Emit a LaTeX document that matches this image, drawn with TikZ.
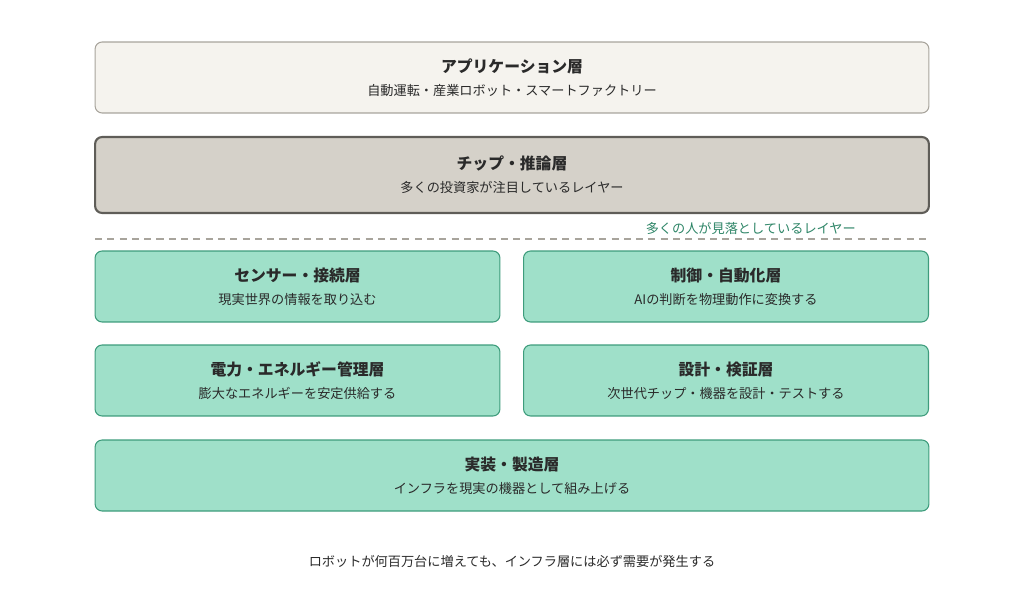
\documentclass[tikz,border=0pt]{standalone}
\usepackage{fontspec}
\setmainfont{Noto Sans CJK JP}
\usepackage{xcolor}
\usetikzlibrary{positioning}
\definecolor{appfill}{HTML}{F5F3EE}
\definecolor{appdraw}{HTML}{A8A49C}
\definecolor{chipfill}{HTML}{D5D1C9}
\definecolor{chipdraw}{HTML}{5F5D58}
\definecolor{infrafill}{HTML}{9FE0C9}
\definecolor{infradraw}{HTML}{3E9C7C}
\definecolor{notegreen}{HTML}{2E8567}
\definecolor{textdark}{HTML}{2A2A2A}
\newcommand{\layertitle}[1]{{\fontsize{9pt}{11pt}\selectfont\bfseries #1}}

\begin{document}
\begin{tikzpicture}[
    x=0.02cm, y=-0.02cm,
    layer/.style={rectangle, rounded corners=4pt, minimum height=1.42cm, align=center, text=textdark, font=\fontsize{7.5pt}{13pt}\selectfont},
    app/.style={layer, draw=appdraw, fill=appfill, line width=0.6pt},
    chip/.style={layer, draw=chipdraw, fill=chipfill, line width=1.2pt, minimum height=1.52cm},
    infra/.style={layer, draw=infradraw, fill=infrafill, line width=0.6pt},
    wide/.style={minimum width=16.68cm},
    half/.style={minimum width=8.1cm}
]
    \useasboundingbox (0,0) rectangle (1024,612);

    % upper layers
    \node[app, wide] (application) at (512, 77.5) {\layertitle{アプリケーション層}\\自動運転・産業ロボット・スマートファクトリー};
    \node[chip, wide] (chip) at (512, 175) {\layertitle{チップ・推論層}\\多くの投資家が注目しているレイヤー};

    % divider
    \coordinate (divL) at (95, 239);
    \coordinate (divR) at (929, 239);
    \draw[draw=appdraw, line width=0.6pt, dash pattern=on 4pt off 3pt] (divL) -- (divR);
    \node[text=notegreen, font=\fontsize{7.5pt}{9pt}\selectfont, anchor=east] (note) at (862, 228) {多くの人が見落としているレイヤー};

    % infrastructure layers
    \node[infra, half] (sensor) at (297.5, 286.5) {\layertitle{センサー・接続層}\\現実世界の情報を取り込む};
    \node[infra, half] (control) at (726, 286.5) {\layertitle{制御・自動化層}\\AIの判断を物理動作に変換する};
    \node[infra, half] (power) at (297.5, 380.5) {\layertitle{電力・エネルギー管理層}\\膨大なエネルギーを安定供給する};
    \node[infra, half] (design) at (726, 380.5) {\layertitle{設計・検証層}\\次世代チップ・機器を設計・テストする};
    \node[infra, wide] (assembly) at (512, 475.5) {\layertitle{実装・製造層}\\インフラを現実の機器として組み上げる};

    % caption
    \node[text=textdark, font=\fontsize{7.5pt}{9pt}\selectfont] (caption) at (512, 561) {ロボットが何百万台に増えても、インフラ層には必ず需要が発生する};
\end{tikzpicture}
\end{document}
